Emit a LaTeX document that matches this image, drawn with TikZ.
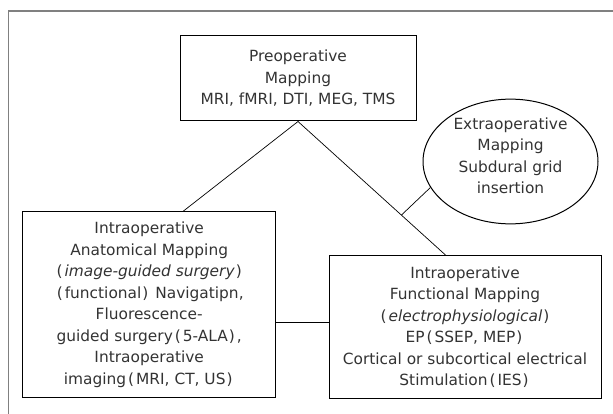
\documentclass[tikz,border=0pt]{standalone}
\usepackage{fontspec}
\setmainfont{DejaVu Sans}
\usetikzlibrary{shapes.geometric,calc}
% brackets with the loose spacing of the source
\newcommand{\fwl}{\kern2pt(\kern2pt}
\newcommand{\fwr}{\kern1pt)\kern2pt}

\begin{document}
\begin{tikzpicture}[x=1pt, y=-1pt,
        box/.style={draw, line width=1pt, align=center, inner sep=0pt,
            text=black!80, font=\fontsize{15.4}{21.5}\selectfont},
        link/.style={line width=0.7pt}]
            \useasboundingbox (0,0) rectangle (613,414);
            % frame round the figure
            \draw[gray, line width=1.3pt] (8.6,414) -- (8.6,11) -- (613,11);

            % the four kinds of mapping
            \node[box, minimum width=236pt, minimum height=85pt] (pre) at (298,78.5)
                {Preoperative\\Mapping\\MRI, fMRI, DTI, MEG, TMS};
            \node[box, ellipse, minimum width=175pt, minimum height=103pt, text depth=12pt] (extra) at (510.5,161.5)
                {Extraoperative\\Mapping\\Subdural grid\\insertion};
            \node[box, minimum width=253pt, minimum height=186pt] (anat) at (149.2,304.7)
                {Intraoperative\\Anatomical Mapping\\\fwl\textit{image-guided surgery}\fwr\\
                 \fwl functional\fwr\ Navigatipn,\\Fluorescence-\\guided surgery\fwl 5-ALA\fwr,\\
                 Intraoperative\\imaging\fwl MRI, CT, US\fwr};
            \node[box, minimum width=272pt, minimum height=143pt] (func) at (465,327.2)
                {Intraoperative\\Functional Mapping\\\fwl\textit{electrophysiological}\fwr\\
                 EP\fwl SSEP, MEP\fwr\\Cortical or subcortical electrical\\Stimulation\fwl IES\fwr};

            % connections
            \coordinate (j) at ($(pre.south)!0.7!(func.105)$);
            \draw[link] (pre.south) -- (anat.70.6);
            \draw[link] (pre.south) -- (func.105);
            \draw[link] (extra.198.4) -- (j);
            \draw[link] (anat.-8.4) -- (anat.-8.4 -| func.west);
        \end{tikzpicture}
\end{document}
